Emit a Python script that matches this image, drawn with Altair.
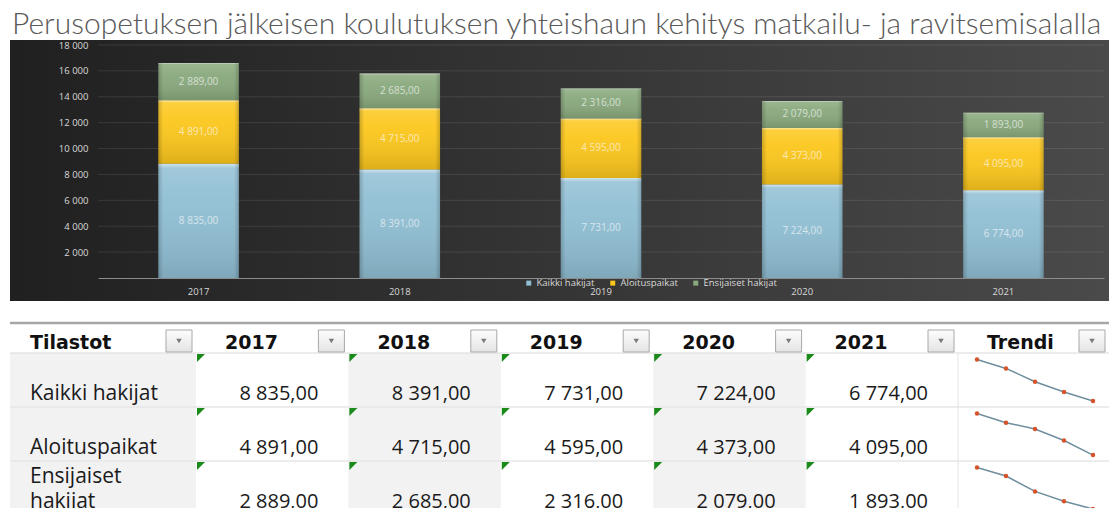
import altair as alt
import pandas as pd

# ---------------- data ----------------
title_text = "Perusopetuksen jälkeisen koulutuksen yhteishaun kehitys matkailu- ja ravitsemisalalla"
years = [2017, 2018, 2019, 2020, 2021]
series_names = ["Kaikki hakijat", "Aloituspaikat", "Ensijaiset hakijat"]
row_labels = ["Kaikki hakijat", "Aloituspaikat", "Ensijaiset\nhakijat"]
kaikki_hakijat = [8835, 8391, 7731, 7224, 6774]
aloituspaikat = [4891, 4715, 4595, 4373, 4095]
ensijaiset_hakijat = [2889, 2685, 2316, 2079, 1893]
header_labels = ["Tilastot", "2017", "2018", "2019", "2020", "2021", "Trendi"]
shaded_columns = [0, 2, 4]
y_ticks = [2000, 4000, 6000, 8000, 10000, 12000, 14000, 16000, 18000]
series_colors = ["#90bfd4", "#fcc71c", "#89a97d"]

records = []
for i, (name, lab, vals) in enumerate(
    zip(series_names, row_labels, [kaikki_hakijat, aloituspaikat, ensijaiset_hakijat])
):
    for yr, v in zip(years, vals):
        records.append({"series": name, "order": i, "row": i + 1, "label": lab, "year": yr, "value": v})
values_df = pd.DataFrame(records)

# row label lines: 'back' counts lines from the bottom of the cell (0 = last line)
line_records = []
for i, lab in enumerate(row_labels):
    parts = lab.split("\n")
    for j, part in enumerate(parts):
        line_records.append({"row": i + 1, "text": part, "back": len(parts) - 1 - j})
lines_df = pd.DataFrame(line_records)

rows_df = pd.DataFrame({"row": [1, 2, 3], "label": row_labels})
cols_df = pd.DataFrame({
    "col": list(range(len(header_labels))),
    "header": header_labels,
    "shaded": [c in shaded_columns for c in range(len(header_labels))],
})
ticks_df = pd.DataFrame({"tick": y_ticks})

FMT = "replace(replace(format(datum.value, ',.2f'), ',', ' '), '.', ',')"
FONT = "Open Sans"
LIGHT = "#d9d9d9"
W = 1099

# ---------------- bar chart ----------------
x_enc = alt.X(
    "year:O", title=None,
    scale=alt.Scale(range=[88, 1094], paddingInner=0.6, paddingOuter=0.3),
    axis=alt.Axis(labelAngle=0, labelColor=LIGHT, labelFontSize=9.5, labelFont=FONT,
                  ticks=False, domainColor="#8c8c8c", domainWidth=1, labelPadding=8,
                  grid=False, zindex=1),
)
y_scale = alt.Scale(domain=[0, 18000], nice=False, zero=True)
y_axis = alt.Axis(values=y_ticks, labelExpr="replace(format(datum.value, ','), ',', ' ')",
                  labelColor=LIGHT, labelFontSize=9.5, labelFont=FONT, ticks=False,
                  domain=False, grid=False, labelPadding=10, zindex=1, title=None, offset=-88)

bg = alt.Chart(pd.DataFrame({"k": [0]})).mark_rect(
    fill=alt.Gradient(gradient="linear", x1=0, x2=1, y1=0, y2=0,
                      stops=[alt.GradientStop(offset=0, color="#202020"),
                             alt.GradientStop(offset=1, color="#4a4a4a")])
).encode(x=alt.value(0), x2=alt.value(W), y=alt.value(-5), y2=alt.value(256))

grid = alt.Chart(ticks_df).mark_rule(color="#ffffff", opacity=0.1, strokeWidth=1).encode(
    y=alt.Y("tick:Q", scale=y_scale, axis=y_axis), x=alt.value(88), x2=alt.value(1094)
)

base = alt.Chart(values_df).transform_stack(
    stack="value", groupby=["year"], as_=["y0", "y1"],
    sort=[alt.SortField("order", order="ascending")],
).transform_calculate(mid="(datum.y0 + datum.y1) / 2", txt=FMT)

bars = base.mark_bar().encode(
    x=x_enc,
    y=alt.Y("y0:Q", scale=y_scale, axis=y_axis),
    y2="y1:Q",
    color=alt.Color("series:N", scale=alt.Scale(domain=series_names, range=series_colors),
                    legend=alt.Legend(orient="none", legendX=514, legendY=233,
                                      direction="horizontal", title=None, labelColor=LIGHT,
                                      labelFontSize=9.5, labelFont=FONT, symbolType="square",
                                      symbolSize=25, symbolStrokeWidth=0, columnPadding=13,
                                      labelOffset=3, padding=0, zindex=1)),
)
shine = base.mark_bar(fill=alt.Gradient(
    gradient="linear", x1=0, x2=0, y1=0, y2=1,
    stops=[alt.GradientStop(offset=0, color="rgba(255,255,255,0.6)"),
           alt.GradientStop(offset=0.04, color="rgba(255,255,255,0.15)"),
           alt.GradientStop(offset=0.3, color="rgba(255,255,255,0.05)"),
           alt.GradientStop(offset=1, color="rgba(0,0,0,0.12)")])
).encode(x=x_enc, y=alt.Y("y0:Q", scale=y_scale, axis=y_axis), y2="y1:Q")
edges = base.mark_bar(fill=alt.Gradient(
    gradient="linear", x1=0, x2=1, y1=0, y2=0,
    stops=[alt.GradientStop(offset=0, color="rgba(0,0,0,0.18)"),
           alt.GradientStop(offset=0.06, color="rgba(0,0,0,0)"),
           alt.GradientStop(offset=0.94, color="rgba(0,0,0,0)"),
           alt.GradientStop(offset=1, color="rgba(0,0,0,0.18)")])
).encode(x=x_enc, y=alt.Y("y0:Q", scale=y_scale, axis=y_axis), y2="y1:Q")
labels = base.mark_text(color="#ffffff", opacity=0.62, fontSize=10, font=FONT).encode(
    x=x_enc, y=alt.Y("mid:Q", scale=y_scale, axis=y_axis), text="txt:N"
)

bar_chart = alt.layer(bg, grid, bars, shine, edges, labels).properties(width=W, height=233)

# ---------------- table ----------------
cx_scale = alt.Scale(domain=[0, 1, 6, 7], range=[0, 186, 948, W], nice=False, zero=False)
ry_scale = alt.Scale(domain=[0, 1, 4], range=[0, 32, 194], nice=False, zero=False)


def TX(f):
    return alt.X(f, type="quantitative", scale=cx_scale, axis=None)


def TY(f):
    return alt.Y(f, type="quantitative", scale=ry_scale, axis=None)


shade = alt.Chart(cols_df).transform_filter("datum.shaded").transform_calculate(
    c2="datum.col + 1", r0="1", r1="4"
).mark_rect(fill="#f2f2f2", clip=True).encode(x=TX("col"), x2="c2:Q", y=TY("r0"), y2="r1:Q")

seps = alt.Chart(rows_df).transform_filter("datum.row > 1").transform_calculate(
    x0="0", x1="7"
).mark_rule(color="#e6e6e6", strokeWidth=1.5, clip=True).encode(x=TX("x0"), x2="x1:Q", y=TY("row"))

head_line = alt.Chart(rows_df).transform_filter("datum.row == 1").transform_calculate(
    x0="0", x1="7"
).mark_rule(color="#d9d9d9", strokeWidth=1, clip=True).encode(x=TX("x0"), x2="x1:Q", y=TY("row"))

top_line = alt.Chart(rows_df).transform_filter("datum.row == 1").transform_calculate(
    x0="0", x1="7", t="0"
).mark_rule(color="#a6a6a6", strokeWidth=2.5, yOffset=2, clip=True).encode(
    x=TX("x0"), x2="x1:Q", y=TY("t"))

trend_border = alt.Chart(cols_df).transform_filter("datum.col == 6").transform_calculate(
    r0="1", r1="4"
).mark_rule(color="#e4e4e4", strokeWidth=1, clip=True).encode(x=TX("col"), y=TY("r0"), y2="r1:Q")

head_first = alt.Chart(cols_df).transform_filter("datum.col == 0").transform_calculate(
    r1="1").mark_text(align="left", baseline="alphabetic", dx=20, dy=-4, fontSize=19,
                      font="DejaVu Sans", fontWeight="bold", color="#111111", clip=True).encode(
    x=TX("col"), y=TY("r1"), text="header:N")
head_rest = alt.Chart(cols_df).transform_filter("datum.col > 0").transform_calculate(
    r1="1").mark_text(align="left", baseline="alphabetic", dx=29, dy=-4, fontSize=19,
                      font="DejaVu Sans", fontWeight="bold", color="#111111", clip=True).encode(
    x=TX("col"), y=TY("r1"), text="header:N")

boxes = alt.Chart(cols_df).transform_calculate(c2="datum.col + 1", r0="0").mark_rect(
    xOffset=-30, x2Offset=-4, yOffset=9, y2Offset=31, stroke="#a8a8a8", strokeWidth=1,
    fill=alt.Gradient(gradient="linear", x1=0, x2=0, y1=0, y2=1,
                      stops=[alt.GradientStop(offset=0, color="#fdfdfd"),
                             alt.GradientStop(offset=1, color="#e4e4e4")]),
    clip=True,
).encode(x=TX("c2"), x2="c2:Q", y=TY("r0"), y2="r0:Q")
box_tri = alt.Chart(cols_df).transform_calculate(c2="datum.col + 1", r0="0").mark_point(
    shape="triangle-down", filled=True, size=30, color="#7a7a7a", opacity=1,
    xOffset=-17, yOffset=20, clip=True,
).encode(x=TX("c2"), y=TY("r0"))

green = alt.Chart(values_df).transform_calculate(col="datum.year - 2016").mark_point(
    shape="M-1,-1L1,-1L-1,1Z", filled=True, size=64, color="#1a8a1a", opacity=1,
    xOffset=5, yOffset=5, clip=True,
).encode(x=TX("col"), y=TY("row"))

label_style = dict(align="left", baseline="alphabetic", dx=20, fontSize=21, font=FONT,
                   color="#1a1a1a", clip=True)
row_text_last = alt.Chart(lines_df).transform_filter("datum.back == 0").transform_calculate(
    x0="0", rb="datum.row + 1").mark_text(dy=-7, **label_style).encode(
    x=TX("x0"), y=TY("rb"), text="text:N")
row_text_prev = alt.Chart(lines_df).transform_filter("datum.back == 1").transform_calculate(
    x0="0", rb="datum.row + 1").mark_text(dy=-32, **label_style).encode(
    x=TX("x0"), y=TY("rb"), text="text:N")

val_text = alt.Chart(values_df).transform_calculate(
    c2="datum.year - 2016 + 1", rb="datum.row + 1", txt=FMT
).mark_text(align="right", baseline="alphabetic", dx=-30, dy=-7, fontSize=20, font=FONT,
            color="#1a1a1a", clip=True).encode(x=TX("c2"), y=TY("rb"), text="txt:N")

spark_base = alt.Chart(values_df).transform_joinaggregate(
    vmin="min(value)", vmax="max(value)", groupby=["series"]
).transform_calculate(
    sp="datum.row + 0.12 + 0.77 * (datum.vmax - datum.value) / (datum.vmax - datum.vmin)"
)
sx = alt.X("year:Q", scale=alt.Scale(domain=[2017, 2021], range=[967, 1083], nice=False, zero=False),
           axis=None)
spark_line = spark_base.mark_line(color="#6f8e9e", strokeWidth=1.5, clip=True).encode(
    x=sx, y=TY("sp"), detail="series:N")
spark_pts = spark_base.mark_point(filled=True, size=20, color="#d4532b", opacity=1, clip=True).encode(
    x=sx, y=TY("sp"), detail="series:N")

table_chart = alt.layer(
    shade, seps, head_line, top_line, trend_border, head_first, head_rest, boxes, box_tri,
    green, row_text_last, row_text_prev, val_text, spark_line, spark_pts,
).resolve_scale(x="independent").properties(width=W, height=188)

chart = alt.vconcat(bar_chart, table_chart, spacing=20).properties(
    title=alt.TitleParams(text=title_text, anchor="start", fontSize=30, font="Lato",
                          fontWeight=300, color="#595959", offset=0, dx=2),
    padding={"left": 2, "top": 2, "right": 0, "bottom": 0},
).configure(background="#ffffff").configure_view(stroke=None)

chart.save("out.html", embed_options={"renderer": "svg", "actions": False})
